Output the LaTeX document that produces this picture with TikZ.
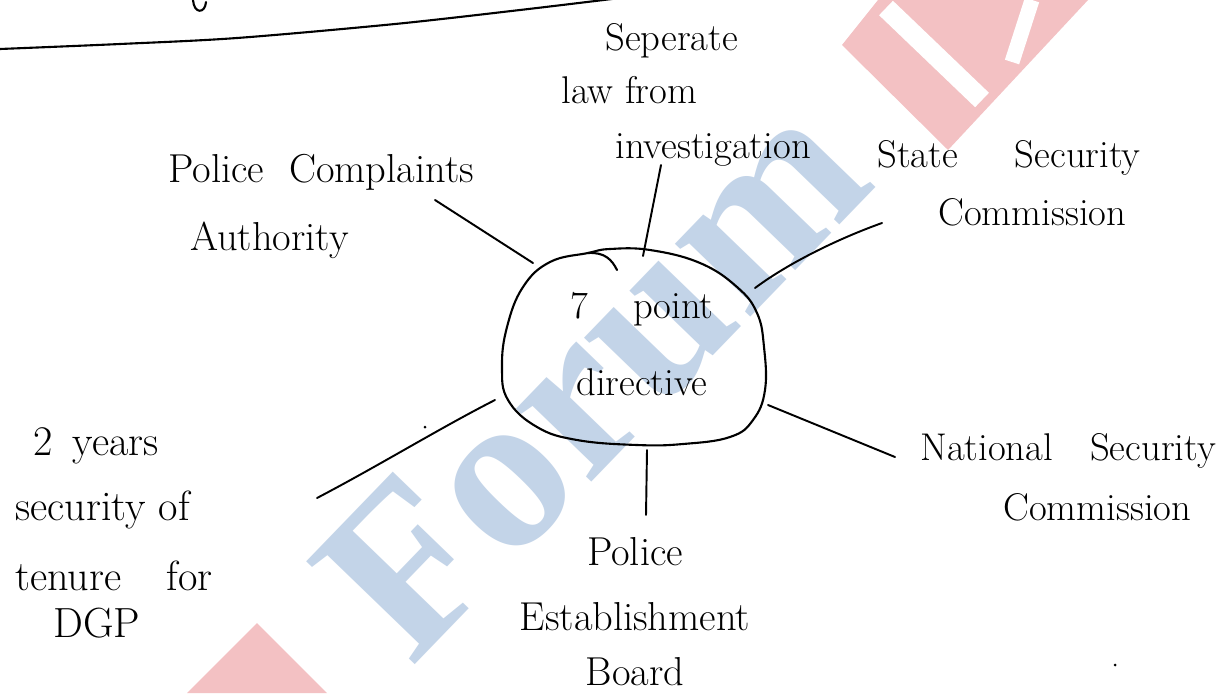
\documentclass[tikz,border=0pt]{standalone}
\usepackage{fontspec}
\newfontfamily\wmfont{Liberation Serif}
\definecolor{wmblue}{HTML}{C3D4E8}
\definecolor{wmred}{HTML}{F3C1C3}
\begin{document}
\begin{tikzpicture}[x=0.02cm,y=-0.02cm,
  lbl/.style={font=\fontsize{22}{34}\selectfont, inner sep=0pt},
  biglbl/.style={font=\fontsize{24}{34}\selectfont, inner sep=0pt},
  link/.style={line width=1.1pt, line cap=round},
  pen/.style={line width=1.2pt, line cap=round, line join=round}]
\useasboundingbox (0,0) rectangle (1222,693);
\fill[white] (0,0) rectangle (1222,693);
% watermark
\fill[wmred] (878,0) -- (842,45) -- (948,150) -- (1088,0) -- cycle;
\draw[white, line width=0.4cm] (886,8) -- (982,100);
\draw[white, line width=0.3cm] (1012,62) -- (1032,0);
\fill[wmred] (187,693) -- (257,623) -- (327,693) -- cycle;
\node[rotate=46, text=wmblue, font=\wmfont\bfseries\fontsize{130}{130}\selectfont, inner sep=0pt] (wm) at (592,376) {Forum};
% heading underline
\draw[pen] plot[smooth] coordinates {(0,49) (120,44) (237,38) (395,24) (520,10) (620,-2)};
\draw[pen] (193,0) .. controls (194,14) and (205,14) .. (206,2);
% centre blob
\draw[pen] plot[smooth cycle, tension=0.7] coordinates {(610,249) (650,250) (700,263) (737,287) (757,313) (764,347) (765,390) (753,420) (730,437) (683,444) (637,445) (577,440) (537,427) (508,400) (502,367) (507,327) (523,287) (550,262) (588,253)};
\draw[pen] (588,253) .. controls (605,252) and (612,260) .. (617,270);
\node[lbl, align=center, anchor=base] (c) at (642,395) {7\hspace{0.9cm}point\\[0.34cm] directive};
% labels
\node[lbl, align=left, anchor=base west] (sep) at (561,158) {\hspace*{0.88cm}Seperate\\[-0.14cm] law from\\[-0.1cm]\hspace*{1.08cm}investigation};
\node[lbl, font=\fontsize{23}{34}\selectfont, align=left, anchor=base west] (pca) at (168,250) {Police\hspace{0.5cm}Complaints\\[0.16cm]\hspace*{0.44cm}Authority};
\node[lbl, align=left, anchor=base west] (ssc) at (877,225) {State\hspace{1.14cm}Security\\[-0.04cm]\hspace*{1.22cm}Commission};
\node[lbl, align=left, anchor=base west] (nsc) at (920,520) {National\hspace{0.74cm}Security\\\hspace*{1.66cm}Commission};
\node[biglbl, align=left, anchor=base west] (dgp) at (15,637) {\hspace*{0.36cm}2\hspace{0.4cm}years\\[0.1cm]security of\\[0.2cm]tenure\hspace{0.9cm}for\\[-0.26cm]\hspace*{0.76cm}DGP};
\node[lbl, font=\fontsize{23}{34}\selectfont, align=center, anchor=base] (peb) at (635,685) {Police\\[0.1cm]Establishment\\[-0.1cm]Board};
% connectors
\coordinate (sepA) at (661,165); \coordinate (sepB) at (643,256);
\coordinate (pcaA) at (435,200); \coordinate (pcaB) at (533,263);
\coordinate (sscA) at (882,223); \coordinate (sscB) at (755,288);
\coordinate (nscA) at (895,457); \coordinate (nscB) at (768,405);
\coordinate (pebA) at (646,515); \coordinate (pebB) at (647,450);
\coordinate (dgpA) at (317,498); \coordinate (dgpB) at (495,400);
\draw[link] (sepA) -- (sepB);
\draw[link] (pcaA) -- (pcaB);
\draw[link] (sscA) .. controls (840,238) and (790,262) .. (sscB);
\draw[link] (nscA) -- (nscB);
\draw[link] (pebA) -- (pebB);
\draw[link] (dgpA) .. controls (380,465) and (440,428) .. (dgpB);
% specks
\fill (425,427) circle (1.5);
\fill (1115,665) circle (1.5);
\end{tikzpicture}
\end{document}
